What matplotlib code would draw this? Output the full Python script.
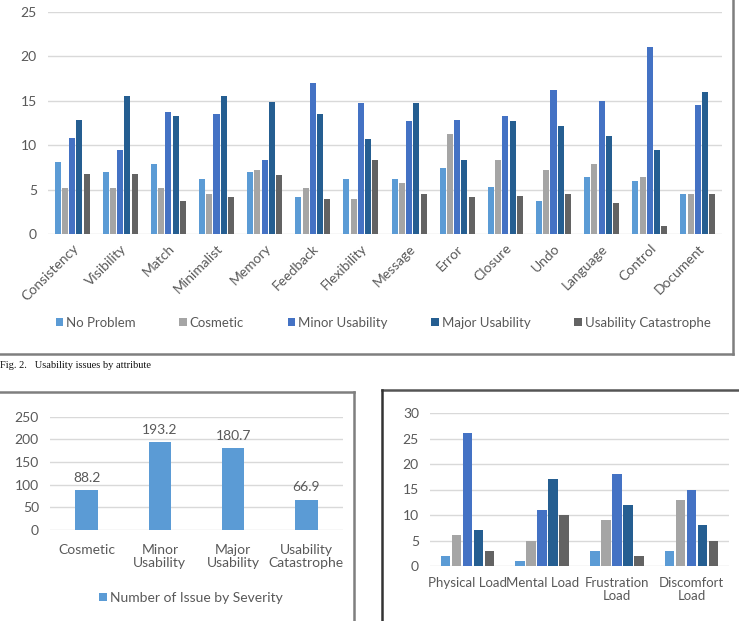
import matplotlib
matplotlib.use("Agg")
import matplotlib.pyplot as plt
from matplotlib.lines import Line2D
import numpy as np

plt.rcParams['font.family'] = ['Lato', 'DejaVu Sans']

# ---------------- data ----------------
attributes = ["Consistency", "Visibility", "Match", "Minimalist", "Memory", "Feedback",
              "Flexibility", "Message", "Error", "Closure", "Undo", "Language",
              "Control", "Document"]
series_names = ["No Problem", "Cosmetic", "Minor Usability", "Major Usability",
                "Usability Catastrophe"]
no_problem = [8.1, 7.0, 7.9, 6.2, 7.0, 4.2, 6.2, 6.2, 7.4, 5.3, 3.7, 6.4, 6.0, 4.5]
cosmetic = [5.2, 5.2, 5.2, 4.5, 7.2, 5.2, 3.9, 5.7, 11.2, 8.3, 7.2, 7.9, 6.4, 4.5]
minor_usability = [10.8, 9.5, 13.7, 13.5, 8.3, 17.0, 14.7, 12.7, 12.8, 13.3, 16.2, 15.0, 21.0, 14.5]
major_usability = [12.8, 15.5, 13.3, 15.5, 14.8, 13.5, 10.7, 14.7, 8.3, 12.7, 12.2, 11.0, 9.5, 16.0]
catastrophe = [6.8, 6.7, 3.7, 4.2, 6.6, 3.9, 8.3, 4.5, 4.2, 4.3, 4.5, 3.5, 0.9, 4.5]

severity_categories = ["Cosmetic", "Minor\nUsability", "Major\nUsability", "Usability\nCatastrophe"]
severity_counts = [88.2, 193.2, 180.7, 66.9]
severity_label = "Number of Issue by Severity"

load_categories = ["Physical Load", "Mental Load", "Frustration\nLoad", "Discomfort\nLoad"]
load_no_problem = [2, 1, 3, 3]
load_cosmetic = [6, 5, 9, 13]
load_minor = [26, 11, 18, 15]
load_major = [7, 17, 12, 8]
load_catastrophe = [3, 10, 2, 5]

colors = ["#5B9BD5", "#A5A5A5", "#4472C4", "#255E91", "#636363"]
text_col = "#595959"
grid_col = "#D9D9D9"

W, H = 739, 621
fig = plt.figure(figsize=(W / 100, H / 100), dpi=100)


def px_axes(x0, y0, x1, y1):
    return fig.add_axes([x0 / W, 1 - y1 / H, (x1 - x0) / W, (y1 - y0) / H])


def style(ax, ymax, step, fs):
    ax.set_ylim(0, ymax)
    ax.set_yticks(np.arange(0, ymax + 0.01, step))
    ax.grid(axis='y', color=grid_col, linewidth=1)
    ax.set_axisbelow(True)
    for s in ax.spines.values():
        s.set_visible(False)
    ax.tick_params(length=0, colors=text_col, labelsize=fs)
    ax.tick_params(axis='y', pad=8)


def fig_line(xs, ys, color="#7F7F7F", lw=1.8):
    fig.add_artist(Line2D([x / W for x in xs], [1 - y / H for y in ys],
                          color=color, linewidth=lw, transform=fig.transFigure))


# ---------------- top chart ----------------
ax1 = px_axes(48, 11.7, 722, 234)
style(ax1, 25, 5, 10)
x = np.arange(len(attributes))
slot = 0.15
bw = 0.125
all_series = [no_problem, cosmetic, minor_usability, major_usability, catastrophe]
for i, (vals, c) in enumerate(zip(all_series, colors)):
    ax1.bar(x + (i - 2) * slot, vals, width=bw, color=c, label=series_names[i])
ax1.set_xlim(-0.5, len(attributes) - 0.5)
ax1.set_xticks(x)
ax1.set_xticklabels(attributes, rotation=45, ha='right', rotation_mode='anchor')
ax1.tick_params(axis='x', pad=6)
ax1.legend(loc='center', bbox_to_anchor=(0.497, -0.40), ncol=5, frameon=False,
           fontsize=9.5, labelcolor=text_col, handlelength=0.6, handleheight=0.6,
           handletextpad=0.2, columnspacing=3.3)

fig_line([0, 733], [354, 354])
fig_line([733, 733], [0, 354])
fig.text(0.5 / W, 1 - 366 / H, "Fig. 2.   Usability issues by attribute",
         family="Liberation Serif", fontsize=7.5, va='center', ha='left', color="#111111")

# ---------------- bottom-left chart ----------------
ax2 = px_axes(50, 416.7, 343, 530)
style(ax2, 250, 50, 10)
xs = np.arange(len(severity_categories))
bars = ax2.bar(xs, severity_counts, width=0.31, color=colors[0], label=severity_label)
for b, v in zip(bars, severity_counts):
    ax2.text(b.get_x() + b.get_width() / 2, v + 14, f"{v}", ha='center', va='bottom',
             fontsize=10, color=text_col)
ax2.set_xlim(-0.5, len(severity_categories) - 0.5)
ax2.set_xticks(xs)
ax2.set_xticklabels(severity_categories, fontsize=10, linespacing=1.1)
ax2.tick_params(axis='x', pad=10)
ax2.legend(loc='center', bbox_to_anchor=(0.48, -0.60), frameon=False, fontsize=10,
           labelcolor=text_col, handlelength=0.6, handleheight=0.6, handletextpad=0.2)
fig_line([0, 354], [392, 392])
fig_line([354, 354], [392, 621])

# ---------------- bottom-right chart ----------------
ax3 = px_axes(430, 413, 729, 566)
style(ax3, 30, 5, 10)
xl = np.arange(len(load_categories))
load_series = [load_no_problem, load_cosmetic, load_minor, load_major, load_catastrophe]
for i, (vals, c) in enumerate(zip(load_series, colors)):
    ax3.bar(xl + (i - 2) * 0.147, vals, width=0.125, color=c)
ax3.set_xlim(-0.5, len(load_categories) - 0.5)
ax3.set_xticks(xl)
ax3.set_xticklabels(load_categories, fontsize=9.5, linespacing=1.1)
ax3.tick_params(axis='x', pad=8)
fig_line([382, 739], [389.5, 389.5], color="#555555")
fig_line([382, 382], [389.5, 621], color="#333333")

fig.savefig("out.png", dpi=100)
